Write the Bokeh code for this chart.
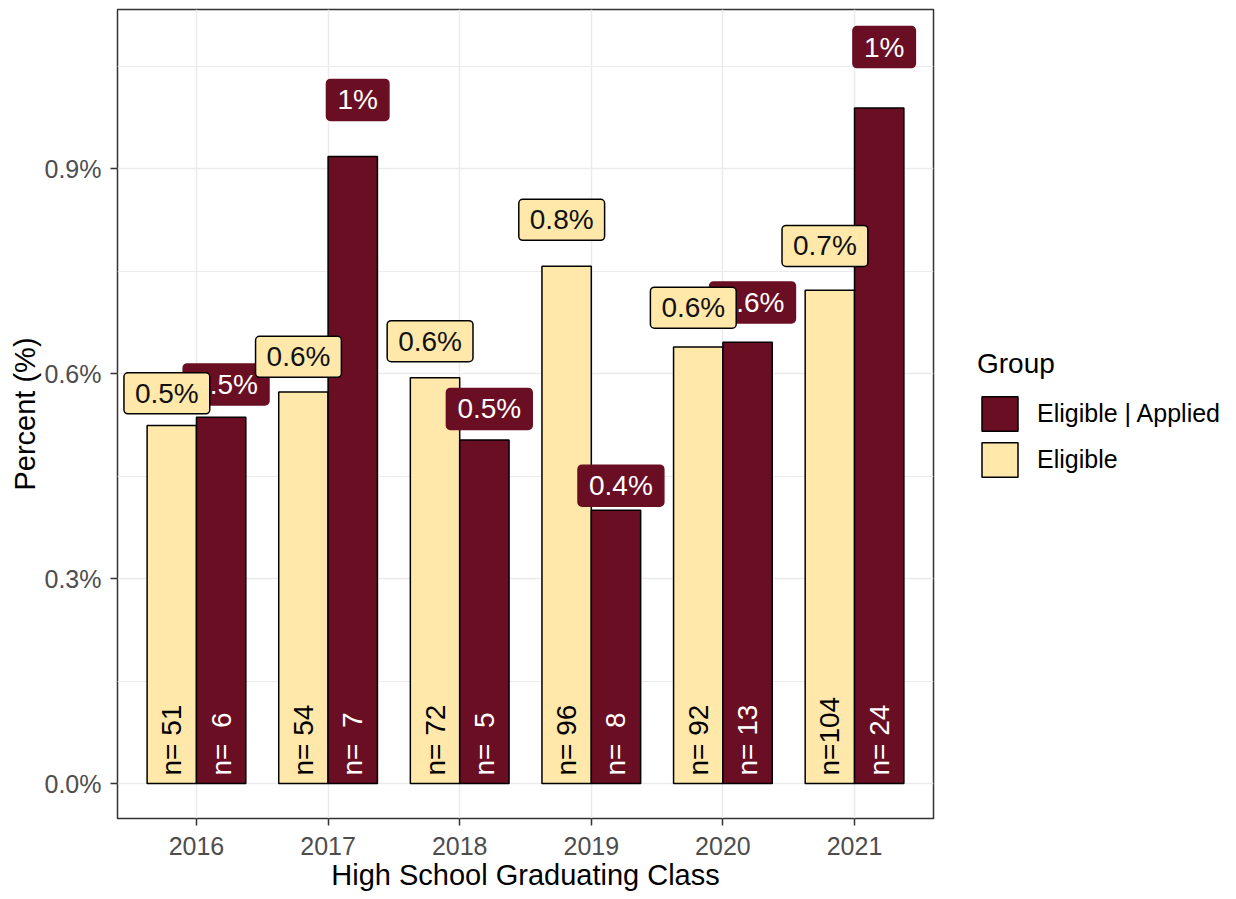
from bokeh.plotting import figure
from bokeh.layouts import row
from bokeh.models import ColumnDataSource, FactorRange, Range1d, FixedTicker, Legend, LegendItem
from bokeh.transform import dodge
from bokeh.embed import file_html
from bokeh.resources import INLINE
from bokeh.core.properties import value

# ---- data ----
years = ["2016", "2017", "2018", "2019", "2020", "2021"]
eligible_pct = [0.524, 0.573, 0.594, 0.757, 0.639, 0.722]
applied_pct = [0.536, 0.918, 0.503, 0.400, 0.646, 0.989]
eligible_lbl = ["0.5%", "0.6%", "0.6%", "0.8%", "0.6%", "0.7%"]
applied_lbl = ["0.5%", "1%", "0.5%", "0.4%", "0.6%", "1%"]
eligible_n = [51, 54, 72, 96, 92, 104]
applied_n = [6, 7, 5, 8, 13, 24]
y_ticks = [0.0, 0.3, 0.6, 0.9]
y_tick_labels = ["0.0%", "0.3%", "0.6%", "0.9%"]
y_minor = [0.15, 0.45, 0.75, 1.05]
group_names = ["Eligible | Applied", "Eligible"]

DARK = "#6A0E23"
LIGHT = "#FFE8AA"
FONT = "Liberation Sans"
LABEL_LIFT = 1.09
NBSP = "\u00a0"
H = 898


def n_text(n):
    s = "%3d" % n
    return "n=" + s.replace(" ", NBSP)


src_e = ColumnDataSource(dict(
    year=years, pct=eligible_pct, lbl=eligible_lbl,
    lbl_y=[v * LABEL_LIFT for v in eligible_pct],
    ntxt=[n_text(n) for n in eligible_n], zero=[0.0] * len(years)))
src_a = ColumnDataSource(dict(
    year=years, pct=applied_pct, lbl=applied_lbl,
    lbl_y=[v * LABEL_LIFT for v in applied_pct],
    ntxt=[n_text(n) for n in applied_n], zero=[0.0] * len(years)))

p = figure(
    x_range=FactorRange(factors=years, range_padding=0.1, range_padding_units="absolute"),
    y_range=Range1d(-0.0512, 1.133),
    width=940, height=H,
    output_backend="svg", toolbar_location=None,
    min_border_left=117, min_border_right=7, min_border_top=9, min_border_bottom=80,
    background_fill_color="white", border_fill_color="white",
)

BAR_W = 0.375
r_e = p.vbar(x=dodge("year", -BAR_W / 2, range=p.x_range), top="pct", width=BAR_W,
             source=src_e, fill_color=LIGHT, line_color="black", line_width=1.5)
r_a = p.vbar(x=dodge("year", BAR_W / 2, range=p.x_range), top="pct", width=BAR_W,
             source=src_a, fill_color=DARK, line_color="black", line_width=1.5)

# n labels inside bars
p.text(x=dodge("year", -BAR_W / 2, range=p.x_range), y="zero", text="ntxt", source=src_e,
       angle=1.5708, text_align="left", text_baseline="middle", y_offset=-8,
       text_font=value(FONT), text_font_size="28px", text_color="black")
p.text(x=dodge("year", BAR_W / 2, range=p.x_range), y="zero", text="ntxt", source=src_a,
       angle=1.5708, text_align="left", text_baseline="middle", y_offset=-8,
       text_font=value(FONT), text_font_size="28px", text_color="white")

# percent labels
LBL_DODGE = 0.225
p.text(x=dodge("year", LBL_DODGE, range=p.x_range), y="lbl_y", text="lbl", source=src_a,
       text_align="center", text_baseline="middle",
       text_font=value(FONT), text_font_size="28px", text_color="white",
       background_fill_color=DARK, border_line_color=DARK, border_line_width=1.5,
       padding=dict(left=11, right=11, top=5, bottom=5), border_radius=4)
p.text(x=dodge("year", -LBL_DODGE, range=p.x_range), y="lbl_y", text="lbl", source=src_e,
       text_align="center", text_baseline="middle",
       text_font=value(FONT), text_font_size="28px", text_color="#111111",
       background_fill_color=LIGHT, border_line_color="black", border_line_width=1.5,
       padding=dict(left=11, right=11, top=5, bottom=5), border_radius=4)

# axes
p.xaxis.axis_label = "High School Graduating Class"
p.yaxis.axis_label = "Percent (%)"
p.yaxis.ticker = FixedTicker(ticks=y_ticks, minor_ticks=y_minor)
p.yaxis.major_label_overrides = {t: s for t, s in zip(y_ticks, y_tick_labels)}
for ax in (p.xaxis[0], p.yaxis[0]):
    ax.axis_line_color = None
    ax.major_tick_line_color = "#333333"
    ax.major_tick_line_width = 1.5
    ax.major_tick_out = 7
    ax.major_tick_in = 0
    ax.minor_tick_out = 0
    ax.minor_tick_in = 0
    ax.major_label_text_font = FONT
    ax.major_label_text_font_size = "25px"
    ax.major_label_text_color = "#4D4D4D"
    ax.axis_label_text_font = FONT
    ax.axis_label_text_font_size = "29px"
    ax.axis_label_text_font_style = "normal"
    ax.axis_label_text_color = "black"
p.xaxis.major_label_standoff = 11
p.xaxis.axis_label_standoff = 1
p.yaxis.major_label_standoff = 9
p.yaxis.axis_label_standoff = 1

p.xgrid.grid_line_color = "#EBEBEB"
p.xgrid.grid_line_width = 1.5
p.ygrid.grid_line_color = "#EBEBEB"
p.ygrid.grid_line_width = 1.5
p.ygrid.minor_grid_line_color = "#EBEBEB"
p.ygrid.minor_grid_line_width = 1

p.outline_line_color = "#333333"
p.outline_line_width = 1.5

# ---- legend panel (separate figure to the right) ----
q = figure(width=290, height=H, x_range=Range1d(0, 1), y_range=Range1d(0, 1),
           output_backend="svg", toolbar_location=None,
           x_axis_type=None, y_axis_type=None,
           min_border_left=0, min_border_right=0, min_border_top=0, min_border_bottom=0,
           background_fill_color="white", border_fill_color="white")
q.outline_line_color = None
q.grid.visible = False
# legend keys only: a NaN point draws no bar, the legend swatch uses the styles
key_src = ColumnDataSource(dict(x=[float("nan")], top=[float("nan")]))
k_a = q.vbar(x="x", top="top", width=0.1, source=key_src,
             fill_color=DARK, line_color="black", line_width=1.5)
k_e = q.vbar(x="x", top="top", width=0.1, source=key_src,
             fill_color=LIGHT, line_color="black", line_width=1.5)

legend = Legend(
    items=[LegendItem(label=group_names[0], renderers=[k_a]),
           LegendItem(label=group_names[1], renderers=[k_e])],
    title="Group", location=(37, H - 482 - 79), orientation="vertical",
    margin=0, padding=0, spacing=3,
    glyph_width=45, glyph_height=43, label_standoff=15,
    label_text_font=FONT, label_text_font_size="25px", label_text_color="black",
    title_text_font=FONT, title_text_font_size="28px", title_text_font_style="normal",
    title_text_color="black", title_standoff=12,
    border_line_color=None, background_fill_alpha=0,
)
q.add_layout(legend)

layout = row(p, q)
open("out.html", "w").write(file_html(layout, INLINE))
